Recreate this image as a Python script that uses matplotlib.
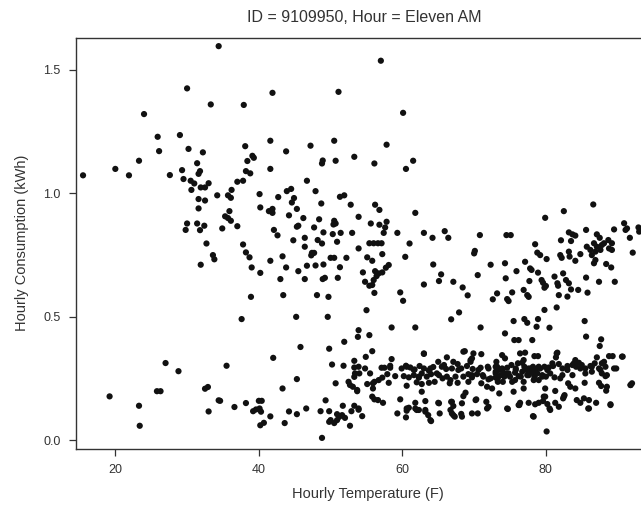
import matplotlib
matplotlib.use("Agg")
import matplotlib.pyplot as plt

plt.rcParams['font.family'] = ['Liberation Sans', 'DejaVu Sans']

# Hourly temperature (F) and hourly consumption (kWh)
temp_f = [
    # cold side, left of 35F
    34.4, 30.0, 33.3, 24.0, 25.9, 29.0, 26.1, 30.2, 32.2, 23.3, 31.4, 20.0, 31.8, 31.6,
    15.5, 21.9, 27.6, 29.3, 29.5, 30.5, 31.0, 33.0, 31.9, 32.5, 30.6, 34.2, 31.6, 32.5,
    31.6, 30.0, 31.4, 32.4, 29.8, 31.8, 32.7, 33.6, 33.8, 31.9, 27.0, 28.8, 25.8, 26.3,
    32.5, 32.9, 19.2, 34.4, 23.3, 33.0, 23.4,
    # 35-54F, upper
    41.9, 51.1, 37.9, 38.1, 41.6, 43.8, 47.2, 50.5, 39.3, 39.1, 38.4, 48.9, 48.8, 50.7,
    53.3, 41.6, 38.2, 38.8, 37.0, 37.8, 46.7, 36.2, 35.7, 36.1, 40.1, 43.9, 44.5, 47.9,
    42.7, 44.9, 44.6, 45.3, 48.7, 51.3, 51.9, 52.8, 40.2, 41.4, 41.9, 41.9, 35.9, 35.3,
    35.7, 36.1, 44.2, 46.2, 48.4, 50.5, 50.7, 50.4, 53.9, 34.9, 37.0, 45.5, 45.3, 47.7,
    42.1, 42.6, 49.0, 50.3, 51.4, 53.0, 44.8, 46.4, 48.2, 48.8, 50.9, 37.8,
    38.2, 38.7, 39.0, 40.2, 41.6, 43.3, 43.8, 43.0, 46.4, 45.5, 46.7, 46.4, 47.4, 47.3,
    47.7, 47.9, 49.0, 48.9, 49.2, 50.0, 50.5, 51.3, 51.0, 52.2, 53.9, 38.9, 43.4, 48.1,
    49.7, 37.6, 45.2, 49.6, 53.9, 53.8, 51.9, 45.8, 49.8,
    # 35-54F, lower
    42.0, 35.5, 50.2, 51.8, 53.3, 53.3, 45.3, 43.3, 50.7, 52.5, 52.7, 53.1, 53.3, 53.7,
    34.6, 36.6, 38.2, 40.0, 40.4, 40.1, 39.2, 39.6, 40.3, 41.6, 40.2, 40.7, 43.6, 44.2,
    45.3, 46.6, 48.6, 49.3, 49.8, 51.7, 50.9, 51.2, 51.6, 52.0, 50.0, 50.5, 50.9, 49.8,
    52.7, 52.9, 53.3, 53.9, 48.8,
    # 54-73F, upper
    57.0, 60.1, 57.8, 61.5, 60.5, 56.1, 56.2, 56.8, 55.6, 56.8, 57.8, 57.6, 57.4, 61.8,
    59.3, 63.0, 64.2, 65.9, 66.4, 70.8, 55.4, 56.0, 56.6, 57.1, 61.0,
    55.1, 55.8, 57.2, 58.1, 57.7, 60.4, 54.5, 56.2, 56.4, 56.7, 57.2, 54.8, 55.4, 56.0,
    55.8, 56.1, 59.7, 60.1, 63.0, 64.3, 65.4, 65.1, 67.1, 68.4, 69.1, 70.1, 70.0, 70.5,
    72.3, 72.6, 73.2, 55.0, 67.9, 66.8, 58.5, 61.8, 70.9, 55.4, 55.8, 54.9, 63.0, 68.7,
    69.9, 69.7, 69.5, 71.0, 58.5, 58.3, 66.2, 65.0, 67.7, 73.1,
    # 54-73F, low band
    57.1, 57.5, 58.3, 59.9, 60.5, 61.1, 61.7, 62.4, 63.0, 63.7, 64.3, 65.5, 66.1, 66.9,
    68.2, 69.0, 69.8, 70.9, 72.0, 73.0, 73.4, 53.9, 54.8,
    53.4, 54.0, 55.5, 57.2, 57.9, 59.0, 60.2, 60.9, 61.6, 62.3, 62.7, 63.4, 64.0, 65.1,
    65.6, 66.2, 67.4, 68.5, 69.2, 69.7, 70.4, 71.3, 72.0, 73.0,
    55.1, 55.9, 56.1, 56.7, 58.1, 60.6, 62.0, 62.7, 63.7, 64.5, 66.6, 67.7, 69.2, 71.0,
    71.8, 72.5, 53.7, 55.9, 62.7,
    55.8, 56.1, 56.6, 57.3, 59.7, 61.8, 60.9, 63.2, 62.3, 65.0, 66.8, 67.1, 68.5, 68.3,
    68.8, 70.3, 71.7, 72.0, 53.9, 54.4, 59.3, 60.6, 60.5, 62.0, 63.2, 63.6, 64.0, 65.2,
    66.7, 66.9, 67.3, 68.2, 69.7, 70.5,
    # 73-94F, upper
    86.6, 82.5, 79.9, 74.5, 75.1, 78.5, 83.2, 83.7, 84.1, 82.1, 83.5, 85.6, 87.1, 87.5,
    86.7, 88.1, 88.7, 89.2, 89.5, 90.9, 91.1, 91.3, 91.7, 92.9, 93.0,
    78.8, 79.2, 80.1, 82.0, 82.2, 83.2, 83.3, 84.1, 84.8, 85.7, 86.2, 86.4, 86.9, 87.1,
    87.6, 87.8, 88.8, 89.2, 86.7, 86.9, 88.4, 89.1, 92.1, 74.3, 75.9, 77.1, 77.8, 78.0,
    78.9, 74.4, 77.7, 79.4, 79.6, 79.8, 80.0, 81.2, 82.4, 81.6, 81.7, 82.8, 83.2, 83.5,
    84.5, 85.6, 85.8, 87.4, 89.6, 75.3, 74.6, 74.8, 76.9, 77.4, 77.6, 81.8, 83.0, 79.8,
    81.5, 75.5, 77.0, 77.4, 78.9, 78.7, 80.5, 85.4, 74.3, 85.6, 75.6, 76.2, 78.1, 87.7,
    87.5,
    # 73-94F, low band
    73.9, 74.3, 76.4, 77.1, 78.4, 78.9, 81.6, 81.4, 84.1, 84.6, 87.1, 88.8, 89.3, 90.7,
    89.8, 87.8,
    73.2, 73.9, 74.6, 75.2, 75.8, 76.7, 77.0, 77.6, 78.2, 78.5, 79.2, 79.8, 80.4, 81.0,
    81.8, 82.3, 83.0, 83.7, 84.2, 85.0, 85.5, 86.2, 86.8, 87.4, 88.3,
    73.0, 73.7, 74.4, 75.0, 75.7, 76.2, 76.7, 77.4, 78.0, 78.4, 78.8, 79.5, 80.0, 80.6,
    81.2, 82.3, 83.7, 86.4, 87.8, 88.3, 73.3, 74.0, 75.7, 76.9, 79.0,
    83.1, 83.4, 84.1, 85.4, 87.4, 87.7, 88.5, 88.4, 91.8, 92.0, 73.5, 75.5, 76.9, 79.9,
    81.3, 82.6, 82.4, 79.9, 79.6, 76.3, 76.4, 74.7, 77.6, 78.5, 79.0, 80.2, 80.5, 81.3,
    81.8, 78.2, 84.8, 85.3, 86.0, 85.9, 87.0, 89.0, 80.1,
    # extra band points, 60-92F
    70.6, 71.2, 71.9, 72.3, 73.0, 73.3, 73.9, 74.2, 74.8, 75.3, 75.8, 76.1, 76.5, 76.9,
    77.3, 77.6, 77.9, 78.3, 78.7, 79.0, 79.5, 80.2, 80.9, 81.5, 82.0, 83.0, 83.9, 84.8,
    85.5, 86.4, 87.6, 88.1, 88.5, 89.5, 90.6, 91.8,
    60.6, 61.6, 62.3, 63.0, 63.9, 64.8, 65.8, 66.7, 67.8, 68.5, 69.5, 69.7, 67.1,
    60.6, 61.8, 63.2, 63.9, 65.1, 66.9, 67.1, 68.3, 70.2, 71.8, 74.6, 76.2, 78.3, 79.7,
    80.6, 82.5, 84.3, 86.0, 89.0,
]

kwh = [
    1.595, 1.424, 1.359, 1.320, 1.228, 1.235, 1.170, 1.179, 1.165, 1.131, 1.121, 1.098, 1.089, 1.078,
    1.072, 1.072, 1.073, 1.093, 1.057, 1.050, 1.039, 1.040, 1.023, 1.023, 1.013, 0.991, 0.976, 0.970,
    0.938, 0.877, 0.877, 0.868, 0.851, 0.850, 0.796, 0.749, 0.732, 0.710, 0.312, 0.279, 0.198, 0.198,
    0.208, 0.215, 0.177, 0.161, 0.139, 0.116, 0.058,
    1.406, 1.410, 1.357, 1.190, 1.212, 1.169, 1.192, 1.212, 1.143, 1.151, 1.130, 1.132, 1.120, 1.131,
    1.147, 1.098, 1.089, 1.080, 1.046, 1.050, 1.050, 1.013, 0.991, 0.981, 0.996, 1.008, 1.017, 1.008,
    0.984, 0.980, 0.962, 0.936, 0.958, 0.985, 0.991, 0.953, 0.942, 0.927, 0.936, 0.920, 0.927, 0.906,
    0.899, 0.888, 0.910, 0.899, 0.894, 0.888, 0.877, 0.873, 0.904, 0.857, 0.866, 0.868, 0.864, 0.861,
    0.851, 0.829, 0.841, 0.834, 0.839, 0.839, 0.809, 0.819, 0.810, 0.796, 0.803, 0.792,
    0.760, 0.740, 0.699, 0.677, 0.726, 0.744, 0.699, 0.652, 0.783, 0.684, 0.706, 0.652, 0.758, 0.748,
    0.758, 0.707, 0.711, 0.652, 0.657, 0.738, 0.738, 0.700, 0.657, 0.738, 0.776, 0.580, 0.587, 0.587,
    0.580, 0.490, 0.499, 0.499, 0.445, 0.418, 0.398, 0.377, 0.370,
    0.333, 0.301, 0.306, 0.301, 0.321, 0.294, 0.247, 0.209, 0.230, 0.236, 0.223, 0.216, 0.256, 0.198,
    0.159, 0.134, 0.150, 0.159, 0.159, 0.128, 0.117, 0.124, 0.115, 0.096, 0.060, 0.070, 0.069, 0.116,
    0.105, 0.128, 0.117, 0.161, 0.117, 0.139, 0.105, 0.094, 0.101, 0.090, 0.081, 0.069, 0.081, 0.074,
    0.058, 0.117, 0.139, 0.123, 0.009,
    1.536, 1.325, 1.196, 1.131, 1.098, 1.120, 0.953, 0.932, 0.877, 0.872, 0.884, 0.861, 0.839, 0.920,
    0.839, 0.839, 0.819, 0.846, 0.819, 0.830, 0.797, 0.797, 0.797, 0.797, 0.796,
    0.740, 0.726, 0.753, 0.709, 0.698, 0.742, 0.679, 0.684, 0.664, 0.675, 0.679, 0.641, 0.625, 0.648,
    0.628, 0.596, 0.598, 0.564, 0.630, 0.711, 0.671, 0.644, 0.641, 0.618, 0.586, 0.766, 0.756, 0.668,
    0.710, 0.570, 0.594, 0.526, 0.517, 0.489, 0.456, 0.456, 0.456, 0.425, 0.360, 0.337, 0.349, 0.360,
    0.351, 0.331, 0.317, 0.348, 0.328, 0.301, 0.335, 0.317, 0.308, 0.317,
    0.293, 0.293, 0.293, 0.290, 0.301, 0.294, 0.286, 0.300, 0.290, 0.281, 0.296, 0.297, 0.288, 0.290,
    0.290, 0.300, 0.288, 0.293, 0.290, 0.297, 0.284, 0.297, 0.290,
    0.270, 0.270, 0.270, 0.253, 0.267, 0.259, 0.259, 0.254, 0.263, 0.253, 0.270, 0.257, 0.267, 0.263,
    0.250, 0.257, 0.257, 0.257, 0.267, 0.254, 0.267, 0.257, 0.246, 0.253,
    0.227, 0.230, 0.236, 0.243, 0.232, 0.220, 0.234, 0.227, 0.232, 0.236, 0.230, 0.232, 0.236, 0.230,
    0.216, 0.209, 0.203, 0.209, 0.196,
    0.176, 0.165, 0.162, 0.151, 0.165, 0.151, 0.131, 0.158, 0.122, 0.151, 0.155, 0.138, 0.178, 0.149,
    0.192, 0.165, 0.155, 0.135, 0.128, 0.097, 0.108, 0.119, 0.092, 0.122, 0.115, 0.101, 0.077, 0.108,
    0.122, 0.108, 0.095, 0.106, 0.108, 0.108,
    0.954, 0.927, 0.900, 0.830, 0.830, 0.793, 0.841, 0.833, 0.828, 0.809, 0.806, 0.851, 0.833, 0.819,
    0.797, 0.797, 0.810, 0.797, 0.853, 0.878, 0.851, 0.857, 0.819, 0.861, 0.844,
    0.759, 0.749, 0.733, 0.749, 0.738, 0.763, 0.743, 0.726, 0.753, 0.783, 0.770, 0.749, 0.763, 0.783,
    0.770, 0.790, 0.776, 0.770, 0.716, 0.729, 0.713, 0.699, 0.759, 0.716, 0.684, 0.722, 0.695, 0.689,
    0.678, 0.655, 0.644, 0.648, 0.637, 0.617, 0.624, 0.662, 0.675, 0.635, 0.625, 0.648, 0.635, 0.610,
    0.608, 0.658, 0.597, 0.641, 0.641, 0.598, 0.571, 0.563, 0.608, 0.587, 0.580, 0.587, 0.581, 0.527,
    0.537, 0.482, 0.490, 0.475, 0.490, 0.459, 0.455, 0.482, 0.432, 0.419, 0.405, 0.405, 0.405, 0.408,
    0.381,
    0.344, 0.331, 0.351, 0.354, 0.340, 0.340, 0.354, 0.335, 0.324, 0.313, 0.335, 0.340, 0.340, 0.338,
    0.290, 0.311,
    0.297, 0.284, 0.293, 0.304, 0.290, 0.313, 0.297, 0.290, 0.297, 0.284, 0.290, 0.297, 0.294, 0.300,
    0.308, 0.290, 0.300, 0.304, 0.297, 0.304, 0.290, 0.300, 0.311, 0.290, 0.297,
    0.270, 0.263, 0.270, 0.257, 0.273, 0.259, 0.277, 0.263, 0.273, 0.257, 0.270, 0.263, 0.257, 0.270,
    0.254, 0.263, 0.263, 0.277, 0.270, 0.259, 0.250, 0.236, 0.243, 0.236, 0.243,
    0.230, 0.216, 0.209, 0.232, 0.232, 0.219, 0.216, 0.200, 0.223, 0.230, 0.189, 0.196, 0.209, 0.209,
    0.199, 0.182, 0.169, 0.176, 0.158, 0.142, 0.151, 0.126, 0.151, 0.145, 0.151, 0.146, 0.128, 0.151,
    0.135, 0.097, 0.151, 0.169, 0.162, 0.128, 0.151, 0.145, 0.035,
    0.284, 0.263, 0.297, 0.250, 0.277, 0.236, 0.290, 0.257, 0.270, 0.236, 0.284, 0.311, 0.257, 0.324,
    0.284, 0.263, 0.290, 0.243, 0.270, 0.297, 0.257, 0.284, 0.311, 0.351, 0.250, 0.284, 0.311, 0.290,
    0.270, 0.297, 0.284, 0.317, 0.263, 0.290, 0.338, 0.223,
    0.297, 0.284, 0.257, 0.351, 0.290, 0.270, 0.304, 0.243, 0.284, 0.358, 0.324, 0.263, 0.317,
    0.128, 0.128, 0.122, 0.081, 0.149, 0.155, 0.101, 0.095, 0.162, 0.128, 0.128, 0.142, 0.095, 0.176,
    0.122, 0.176, 0.162, 0.128, 0.142,
]

x_ticks = [20, 40, 60, 80]
y_ticks = [0.0, 0.5, 1.0, 1.5]

fig = plt.figure(figsize=(6.41, 5.12), dpi=100)
# axes run past the right edge of the picture, like the cropped original
ax = fig.add_axes([76 / 641, 63.5 / 512, 584 / 641, 410.5 / 512])

ax.scatter(temp_f, kwh, s=20, c='#111111', edgecolors='none')

ax.set_xlim(14.52, 95.9)
ax.set_ylim(-0.034, 1.628)
ax.set_xticks(x_ticks)
ax.set_yticks(y_ticks)
ax.set_yticklabels([f"{v:.1f}" for v in y_ticks])

for side in ['left', 'bottom', 'top', 'right']:
    ax.spines[side].set_color('#333333')
    ax.spines[side].set_linewidth(1.0)
ax.tick_params(direction='out', length=5, width=0.9, color='#333333',
               labelcolor='#333333', labelsize=9, pad=6)

ax.set_xlabel('Hourly Temperature (F)', fontsize=10.5, color='#333333', labelpad=8)
ax.set_ylabel('Hourly Consumption (kWh)', fontsize=10.5, color='#333333', labelpad=10)
fig.text(0.568, 0.965, 'ID = 9109950, Hour = Eleven AM', ha='center', va='center',
         fontsize=11.5, color='#333333')

fig.savefig('out.png', dpi=100)
